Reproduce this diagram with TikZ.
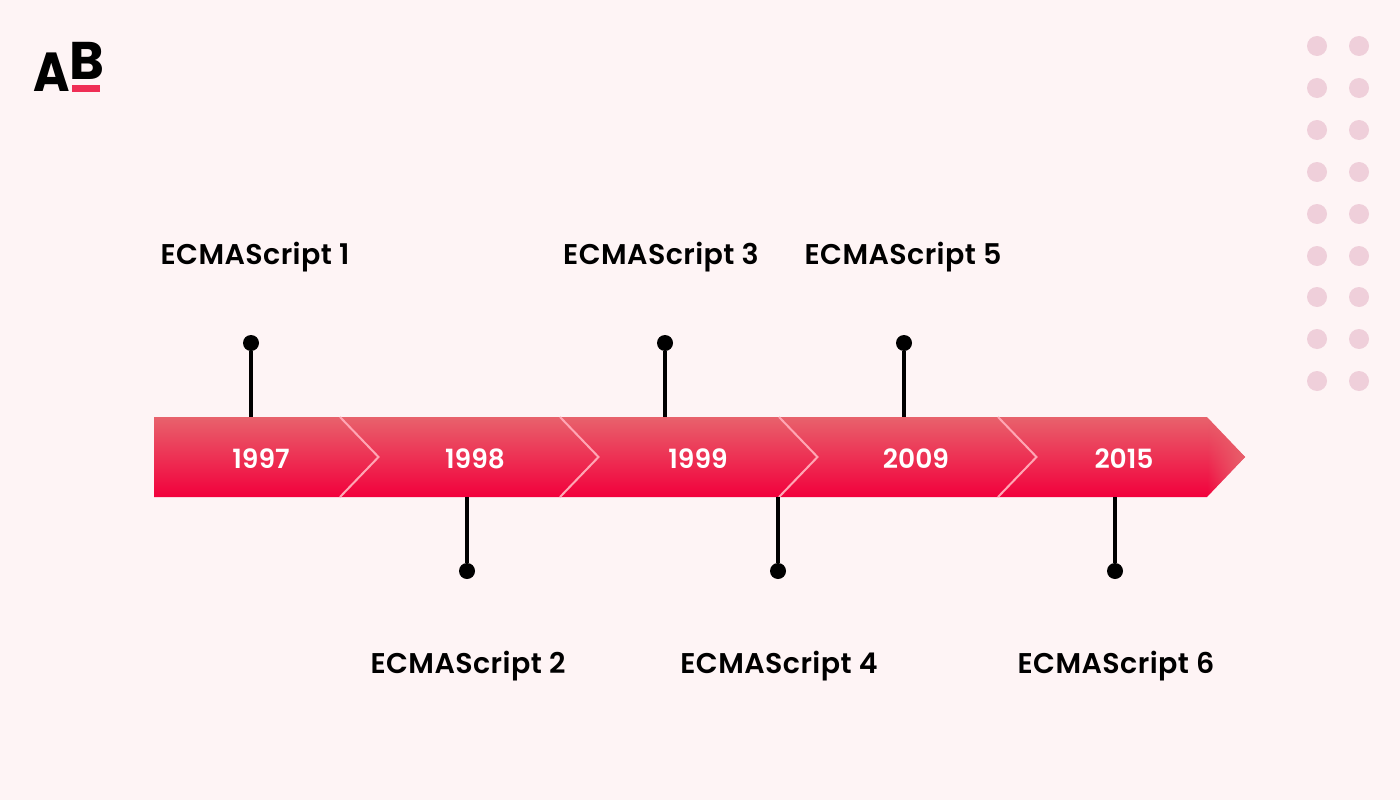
\documentclass[tikz,border=0pt]{standalone}
\usepackage{fontspec}
\setmainfont{Poppins SemiBold}
\newfontfamily\labelfont[LetterSpace=1.5]{Poppins SemiBold}
\newfontfamily\logofont{Poppins Bold}
\usetikzlibrary{positioning,fadings}

\definecolor{bgpink}{HTML}{FEF4F5}
\definecolor{dotpink}{HTML}{EFCFDA}
\definecolor{arrowtop}{HTML}{E8626C}
\definecolor{arrowbot}{HTML}{F2003C}
\definecolor{chevline}{HTML}{FFA6B4}
\definecolor{barred}{HTML}{EF2E55}

\tikzset{
  pin/.style={circle, fill=black, inner sep=0pt, minimum size=16pt},
  stem/.style={line width=4pt, black},
  release/.style={font=\labelfont\fontsize{28.5}{29}\selectfont, inner sep=0pt, anchor=base, black},
  year/.style={font=\fontsize{26.5}{27}\selectfont, inner sep=0pt, anchor=base, white},
  chev/.style={line width=2pt, chevline},
  deco/.style={circle, fill=dotpink, inner sep=0pt, minimum size=20pt}
}

\begin{document}
\begin{tikzpicture}[x=1pt, y=-1pt]
      \fill[bgpink] (0,0) rectangle (1400,800) ;
      \useasboundingbox (0,0) rectangle (1400,800) ;

      % logo
      \node[inner sep=0pt, anchor=base west, xscale=0.9, font=\logofont\fontsize{55}{55}\selectfont] (logoa) at (33,92) {A} ;
      \node[inner sep=0pt, anchor=base west, font=\logofont\fontsize{53}{53}\selectfont] (logob) at (69,80) {B} ;
      \fill[barred] (72,85) rectangle (100,92) ;

      % dots on the right
      \foreach \y in {46,88,130,172,214,256,297,339,381} {
        \node[deco] (l\y) at (1317,\y) {} ;
        \node[deco] (r\y) at (1359,\y) {} ;
      }

      % band
      \shade[top color=arrowtop, bottom color=arrowbot]
        (154,417) -- (1207,417) -- (1245,457) -- (1207,497) -- (154,497) -- cycle ;
      \fill[arrowtop, path fading=west, fit fading=true]
        (1207,417) -- (1245,457) -- (1207,497) -- cycle ;
      \foreach \x in {340,560,779,998} {
        \draw[chev] (\x,417) -- ++(38.5,40) -- ++(-38.5,40) ;
      }

      % years
      \node[year] (y1) at (261,468) {1997} ;
      \node[year] (y2) at (475,468) {1998} ;
      \node[year] (y3) at (698,468) {1999} ;
      \node[year] (y4) at (916,468) {2009} ;
      \node[year] (y5) at (1124,468) {2015} ;

      % pins above
      \node[pin] (p1) at (251,343) {} ;
      \node[pin] (p3) at (665,343) {} ;
      \node[pin] (p5) at (904,343) {} ;
      \coordinate (s1) at (251,417) ;
      \coordinate (s3) at (665,417) ;
      \coordinate (s5) at (904,417) ;
      \draw[stem] (p1) -- (s1) ;
      \draw[stem] (p3) -- (s3) ;
      \draw[stem] (p5) -- (s5) ;

      % pins below
      \node[pin] (p2) at (467,571) {} ;
      \node[pin] (p4) at (778,571) {} ;
      \node[pin] (p6) at (1115,571) {} ;
      \coordinate (s2) at (467,497) ;
      \coordinate (s4) at (778,497) ;
      \coordinate (s6) at (1115,497) ;
      \draw[stem] (p2) -- (s2) ;
      \draw[stem] (p4) -- (s4) ;
      \draw[stem] (p6) -- (s6) ;

      % labels
      \node[release] (e1) at (255,264) {ECMAScript 1} ;
      \node[release] (e2) at (468,673) {ECMAScript 2} ;
      \node[release] (e3) at (661,264) {ECMAScript 3} ;
      \node[release] (e4) at (779,673) {ECMAScript 4} ;
      \node[release] (e5) at (903,264) {ECMAScript 5} ;
      \node[release] (e6) at (1116,673) {ECMAScript 6} ;

\end{tikzpicture}
\end{document}
